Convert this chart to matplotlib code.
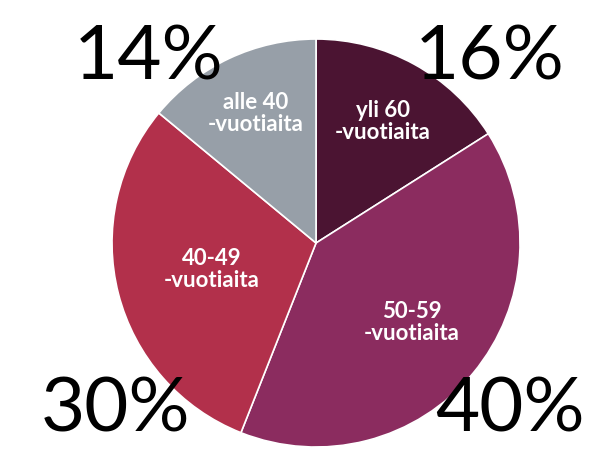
import numpy as np
import matplotlib
matplotlib.use("Agg")
import matplotlib.pyplot as plt

# osuudet ikäryhmittäin, myötäpäivään ylhäältä alkaen
ryhmat = ["yli 60\n-vuotiaita", "50-59\n-vuotiaita", "40-49\n-vuotiaita", "alle 40\n-vuotiaita"]
osuudet = [16, 40, 30, 14]
prosentit = ["16%", "40%", "30%", "14%"]
varit = ["#4b1432", "#8b2c5f", "#b2304b", "#979fa8"]

# tekstien etäisyys keskipisteestä (säteen osuutena)
etaisyys = [0.68, 0.61, 0.53, 0.70]
# isojen prosenttien paikat kuvan reunoilla (keskikohta x, peruslinja y)
kulmat = [(0.817, 0.826), (0.850, 0.059), (0.192, 0.059), (0.247, 0.826)]

fig = plt.figure(figsize=(6, 4.59), dpi=100)
ax = fig.add_axes([0.1867, 0.0261, 0.68, 0.8889])

wedges, _ = ax.pie(osuudet, colors=varit, startangle=90, counterclock=False,
                   radius=1, wedgeprops=dict(edgecolor="white", linewidth=1.2))
ax.set_xlim(-1, 1)
ax.set_ylim(-1, 1)
ax.set_aspect("equal")
ax.axis("off")

for w, teksti, r in zip(wedges, ryhmat, etaisyys):
    kulma = np.deg2rad((w.theta1 + w.theta2) / 2)
    ax.text(r * np.cos(kulma), r * np.sin(kulma), teksti, ha="center", va="center",
            color="white", fontsize=16, fontweight="bold", family="Lato", linespacing=1.05)

for p, (x, y) in zip(prosentit, kulmat):
    fig.text(x, y, p, ha="center", va="baseline", fontsize=55, family="Lato", color="black")

fig.savefig("out.png", dpi=100)
